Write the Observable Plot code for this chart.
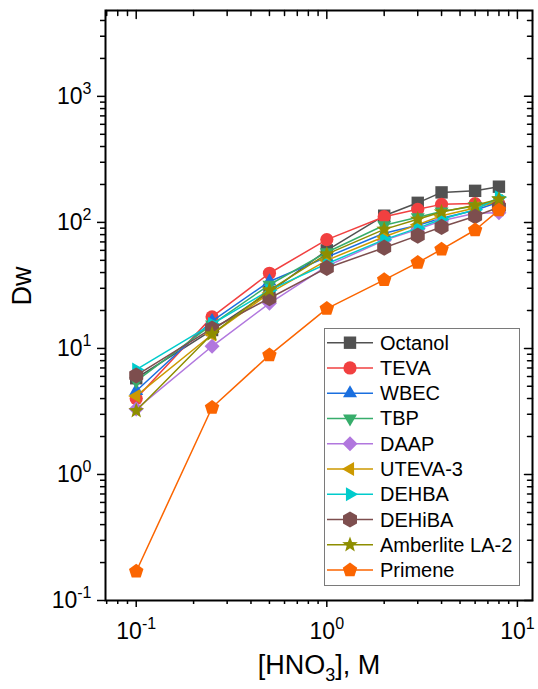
<!DOCTYPE html>
<html><head><meta charset="utf-8">
<script src="https://cdn.jsdelivr.net/npm/d3@7"></script>
<script src="https://cdn.jsdelivr.net/npm/@observablehq/plot@0.6"></script>
<style>
body{margin:0;background:#fff;}
#chart{position:relative;width:538px;height:689px;font-family:"Liberation Sans",Arial,sans-serif;}
#legend{position:absolute;left:0;top:0;}
</style>
</head><body><div id="chart"></div>
<script>
// ---- data ----
const conc = [0.1, 0.25, 0.5, 1, 2, 3, 4, 6, 8];
const seriesNames = ["Octanol","TEVA","WBEC","TBP","DAAP","UTEVA-3","DEHBA","DEHiBA","Amberlite LA-2","Primene"];
const octanol   = [5.8, 14, 28, 60, 113, 143, 173, 178, 192];
const teva      = [4.0, 17.8, 39.5, 73, 111, 127, 139, 141, 140];
const wbec      = [4.6, 16.5, 34, 53, 82, 95, 108, 125, 145];
const tbp       = [5.5, 15.5, 32, 58, 95, 110, 122, 135, 150];
const daap      = [3.3, 10.4, 22.8, 45, 72, 88, 103, 118, 119];
const uteva3    = [4.2, 12.9, 27.5, 50, 77, 96, 113, 130, 148];
const dehba     = [6.8, 15.6, 29, 47, 73, 90, 106, 126, 158];
const dehiba    = [6.1, 14.4, 25, 43.5, 63, 78.5, 92, 112, 132];
const amberlite = [3.2, 13, 29, 56, 88, 106, 121, 137, 153];
const primene   = [0.17, 3.4, 8.85, 20.7, 35, 48, 61, 87, 125];
const seriesValues = [octanol, teva, wbec, tbp, daap, uteva3, dehba, dehiba, amberlite, primene];
const seriesColors = ["#515151","#F14040","#1A6FDF","#37AD6B","#B177DE","#CC9900","#00CBCC","#7D4E4E","#8E8E00","#FB6501"];

const xMajorTicks = [0.1, 1, 10];
const xMinorTicks = [0.07,0.08,0.09,0.2,0.3,0.4,0.5,0.6,0.7,0.8,0.9,2,3,4,5,6,7,8,9];
const yMajorTicks = [0.1, 1, 10, 100, 1000];
const yMinorTicks = [0.2,0.3,0.4,0.5,0.6,0.7,0.8,0.9,2,3,4,5,6,7,8,9,20,30,40,50,60,70,80,90,200,300,400,500,600,700,800,900,2000,3000,4000];

// ---- symbols ----
function poly(c, pts){ c.moveTo(pts[0][0], pts[0][1]); for (let i=1;i<pts.length;i++) c.lineTo(pts[i][0], pts[i][1]); c.closePath(); }
const R = s => Math.sqrt(s/Math.PI);
const symSquare = {draw(c,s){const r=R(s); c.rect(-r,-r,2*r,2*r);}};
const symCircle = {draw(c,s){const r=R(s); c.moveTo(r,0); c.arc(0,0,r,0,2*Math.PI);}};
const symTriUp = {draw(c,s){const r=R(s); poly(c,[[0,-1.155*r],[r,0.577*r],[-r,0.577*r]]);}};
const symTriDown = {draw(c,s){const r=R(s); poly(c,[[0,1.155*r],[r,-0.577*r],[-r,-0.577*r]]);}};
const symTriLeft = {draw(c,s){const r=R(s); poly(c,[[-1.155*r,0],[0.577*r,-r],[0.577*r,r]]);}};
const symTriRight = {draw(c,s){const r=R(s); poly(c,[[1.155*r,0],[-0.577*r,-r],[-0.577*r,r]]);}};
const symDiamond = {draw(c,s){const r=R(s); poly(c,[[0,-r],[r,0],[0,r],[-r,0]]);}};
const symHexagon = {draw(c,s){const r=R(s); poly(c,[[0,-1.155*r],[r,-0.577*r],[r,0.577*r],[0,1.155*r],[-r,0.577*r],[-r,-0.577*r]]);}};
const symStar = {draw(c,s){const r=R(s); const pts=[]; for(let k=0;k<10;k++){const a=-Math.PI/2+k*Math.PI/5; const rr=k%2?r*0.42:r; pts.push([rr*Math.cos(a), rr*Math.sin(a)]);} poly(c,pts);}};
const symPentagon = {draw(c,s){const r=R(s); const pts=[]; for(let k=0;k<5;k++){const a=-Math.PI/2+k*2*Math.PI/5; pts.push([r*Math.cos(a), r*Math.sin(a)]);} poly(c,pts);}};
const seriesSymbols = [symSquare, symCircle, symTriUp, symTriDown, symDiamond, symTriLeft, symTriRight, symHexagon, symStar, symPentagon];
const symbolSizes = [6.2, 6.6, 7, 7, 7.5, 7, 7, 7, 8.2, 7.6];

const tickShape = {draw(ctx, l){ ctx.moveTo(0,0); ctx.lineTo(0,-l); }};
const fmt = d => "10^" + Math.round(Math.log10(d));

const marks = [];
seriesNames.forEach((name, i) => {
  const data = conc.map((x, j) => ({x, y: seriesValues[i][j], name}));
  marks.push(Plot.line(data, {x: "x", y: "y", stroke: seriesColors[i], strokeWidth: 1.5}));
  marks.push(Plot.dot(data, {x: "x", y: "y", symbol: seriesSymbols[i], r: symbolSizes[i], fill: seriesColors[i], stroke: "none"}));
});

const chart = Plot.plot({
  width: 538, height: 689,
  marginLeft: 105, marginRight: 6, marginTop: 10, marginBottom: 89,
  x: {type: "log", domain: [0.069, 12]},
  y: {type: "log", domain: [0.1, 4800]},
  style: {fontFamily: '"Liberation Sans", Arial, sans-serif', background: "white", color: "black"},
  marks: [
    Plot.axisX(xMajorTicks, {anchor: "bottom", tickSize: 7, tickPadding: 15, tickFormat: fmt, fontSize: 23, strokeWidth: 1.5, label: null}),
    Plot.axisX(xMinorTicks, {anchor: "bottom", tickSize: 4, text: null, strokeWidth: 1.5, label: null}),
    Plot.axisY(yMajorTicks, {anchor: "left", tickSize: 8, tickPadding: 6, tickFormat: fmt, fontSize: 23, strokeWidth: 1.5, label: null}),
    Plot.axisY(yMinorTicks, {anchor: "left", tickSize: 5, text: null, strokeWidth: 1.5, label: null}),
    Plot.vector(xMajorTicks, {x: d => d, frameAnchor: "top", length: 8, rotate: 180, anchor: "start", shape: tickShape, stroke: "black", strokeWidth: 1.5}),
    Plot.vector(xMinorTicks, {x: d => d, frameAnchor: "top", length: 5, rotate: 180, anchor: "start", shape: tickShape, stroke: "black", strokeWidth: 1.5}),
    Plot.vector(yMajorTicks, {y: d => d, frameAnchor: "right", length: 8, rotate: 270, anchor: "start", shape: tickShape, stroke: "black", strokeWidth: 1.5}),
    Plot.vector(yMinorTicks, {y: d => d, frameAnchor: "right", length: 5, rotate: 270, anchor: "start", shape: tickShape, stroke: "black", strokeWidth: 1.5}),
    ...marks,
    Plot.frame({stroke: "black", strokeWidth: 2}),
    Plot.text(["[HNO3], M"], {frameAnchor: "bottom", dy: 73, fontSize: 27, fill: "black", className: "xtitle"}),
    Plot.text(["Dw"], {frameAnchor: "left", dx: -83, rotate: -90, fontSize: 27, fill: "black"})
  ]
});

// superscripts on tick labels
d3.select(chart).selectAll('g[aria-label="x-axis tick label"] text, g[aria-label="y-axis tick label"] text').each(function(){
  const t = this.textContent; if (t.indexOf("^") < 0) return;
  const [b, e] = t.split("^");
  const sel = d3.select(this); sel.text(null);
  sel.append("tspan").text(b);
  sel.append("tspan").attr("dy", "-10").attr("font-size", "16").text(e.replace("-", "-"));
});
// subscript in x title
d3.select(chart).selectAll("g.xtitle text, .xtitle text").each(function(){
  const sel = d3.select(this); sel.text(null);
  sel.append("tspan").text("[HNO");
  sel.append("tspan").attr("dy", "7").attr("font-size", "18").text("3");
  sel.append("tspan").attr("dy", "-7").text("], M");
});

const root = document.getElementById("chart");
root.appendChild(chart);

// legend overlay
const lg = d3.select(root).append("svg").attr("id", "legend").attr("width", 538).attr("height", 689);
lg.append("rect").attr("x", 324.5).attr("y", 328.5).attr("width", 195).attr("height", 257)
  .attr("fill", "white").attr("stroke", "#7a7a7a").attr("stroke-width", 1);
seriesNames.forEach((name, i) => {
  const y = 342.7 + i * 25.26;
  lg.append("line").attr("x1", 327).attr("x2", 373).attr("y1", y).attr("y2", y)
    .attr("stroke", seriesColors[i]).attr("stroke-width", 1.5);
  lg.append("path").attr("transform", `translate(350,${y})`)
    .attr("d", d3.symbol().type(seriesSymbols[i]).size(Math.PI * symbolSizes[i] ** 2)())
    .attr("fill", seriesColors[i]);
  lg.append("text").attr("x", 380).attr("y", y).attr("dy", "0.35em")
    .attr("font-family", '"Liberation Sans", Arial, sans-serif').attr("font-size", 20).attr("fill", "black").text(name);
});
</script>
</body></html>
